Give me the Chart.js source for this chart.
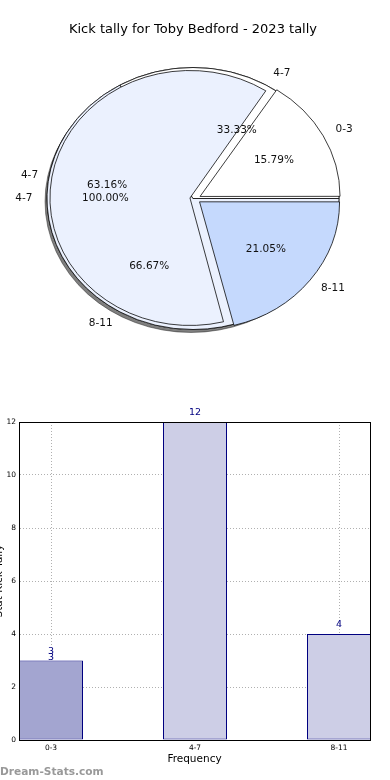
<!DOCTYPE html>
<html>
<head>
<meta charset="utf-8">
<script src="https://cdn.jsdelivr.net/npm/chart.js@4.4.1/dist/chart.umd.min.js"></script>
<style>
  body { margin: 0; background: #fff; width: 390px; height: 780px; overflow: hidden; position: relative; }
  .pie { position: absolute; left: 0; top: 0; }
  #bars { position: absolute; left: -10px; top: 360px; }
  #mark { position: absolute; left: 0; top: 764px; font: bold 10.6px "DejaVu Sans"; line-height: 14px; color: #999; }
</style>
</head>
<body>
<canvas id="pieBack" class="pie" width="390" height="360"></canvas>
<canvas id="pieMid" class="pie" width="390" height="360"></canvas>
<canvas id="pieFront" class="pie" width="390" height="360"></canvas>
<canvas id="bars" width="400" height="420"></canvas>
<div id="mark">Dream-Stats.com</div>

<script>
// data
const categories = ['0-3', '4-7', '8-11'];
const kickTally = [3, 12, 4];
// the source image has two more pies stacked under the main one
const fullLabels = ['4-7'];
const fullValues = [12];
const splitLabels = ['4-7', '8-11'];
const splitValues = [4, 8];
const yTicks = [0, 2, 4, 6, 8, 10, 12];
// how many times each bar value got printed (0-3 shows "3" twice)
const barLabelRepeats = [2, 1, 1];

const pieColors = ['#ffffff', '#ebf1fe', '#c5d9fd'];
const barColors = ['#a3a5d0', '#cdcee6', '#cdcee6'];

Chart.defaults.font.family = 'DejaVu Sans';

// pie geometry (matplotlib draws it as an ellipse)
const FRONT_R = 140, FRONT_SY = 127.5 / 140, EXPLODE = 5.4;
const BACK_R = 146, BACK_SY = 131 / 146;

// squash a pie vertically around its centre
function squash(sy, shadow) {
  return {
    id: 'squash',
    beforeDatasetsDraw(chart) {
      const a = chart.getDatasetMeta(0).data[0];
      const ctx = chart.ctx;
      ctx.save();
      ctx.translate(a.x, a.y);
      ctx.scale(1, sy);
      ctx.translate(-a.x, -a.y);
      if (shadow) {
        ctx.shadowColor = 'rgba(0,0,0,0.5)';
        ctx.shadowOffsetX = -2;
        ctx.shadowOffsetY = 3;
        ctx.shadowBlur = 0.5;
      }
    },
    afterDatasetsDraw(chart) {
      chart.ctx.restore();
    }
  };
}

function pieOptions(padding, title) {
  return {
    responsive: false,
    animation: false,
    events: [],
    layout: { padding: padding },
    plugins: {
      legend: { display: false },
      tooltip: { enabled: false },
      title: title || { display: false }
    }
  };
}

// chart.js runs clockwise, matplotlib counter clockwise from 3 o'clock -> reverse
const rev = a => a.slice().reverse();

var pieBack = new Chart(document.getElementById('pieBack'), {
  type: 'pie',
  data: {
    labels: fullLabels,
    datasets: [{
      data: fullValues,
      backgroundColor: pieColors[0],
      borderColor: '#000',
      borderWidth: 0.8,
      radius: BACK_R,
      rotation: 90
    }]
  },
  options: pieOptions({ left: 0, right: 4, top: 0, bottom: 0.6 }, {
    display: true,
    text: 'Kick tally for Toby Bedford - 2023 tally',
    color: '#000',
    font: { size: 13, weight: 'normal' },
    padding: { top: 22, bottom: 0 }
  }),
  plugins: [squash(BACK_SY, true)]
});

var pieMid = new Chart(document.getElementById('pieMid'), {
  type: 'pie',
  data: {
    labels: rev(splitLabels),
    datasets: [{
      data: rev(splitValues),
      backgroundColor: rev(pieColors.slice(0, splitValues.length)),
      borderColor: '#000',
      borderWidth: 0.8,
      borderJoinStyle: 'miter',
      radius: BACK_R,
      rotation: 90
    }]
  },
  options: pieOptions({ left: 0, right: 4, top: 37.6, bottom: 0.6 }),
  plugins: [squash(BACK_SY, false)]
});

// chart.js grows an offset arc's radius by offset/4 * fix, undo that
const keepRadius = {
  id: 'keepRadius',
  afterDatasetsUpdate(chart) {
    chart.getDatasetMeta(0).data.forEach(arc => {
      const circ = arc.endAngle - arc.startAngle;
      const fix = 1 - Math.sin(Math.min(Math.PI, circ));
      arc.outerRadius = FRONT_R - (EXPLODE * fix);
    });
  }
};

function drawPieLabels(ctx, cx, cy, r, sy, explode, labels, values) {
  const total = values.reduce((a, b) => a + b, 0);
  let start = 0;
  values.forEach((v, i) => {
    const frac = v / total;
    const mid = (start + frac / 2) * 2 * Math.PI;
    start += frac;
    const c = Math.cos(mid), s = Math.sin(mid);
    const at = d => [cx + (explode + r * d) * c, cy - (explode + r * d) * s * sy];
    const [lx, ly] = at(1.1);
    ctx.textAlign = c < -0.0001 ? 'right' : 'left';
    ctx.fillText(labels[i], lx, ly);
    const [px, py] = at(0.6);
    ctx.textAlign = 'center';
    ctx.fillText((frac * 100).toFixed(2) + '%', px, py);
  });
}

const pieLabels = {
  id: 'pieLabels',
  afterDraw(chart) {
    const ctx = chart.ctx;
    ctx.save();
    ctx.font = '10.5px "DejaVu Sans"';
    ctx.fillStyle = '#111';
    ctx.textBaseline = 'middle';
    const b = pieBack.getDatasetMeta(0).data[0];
    drawPieLabels(ctx, b.x, b.y, BACK_R, BACK_SY, 0, fullLabels, fullValues);
    drawPieLabels(ctx, b.x, b.y, BACK_R, BACK_SY, 0, splitLabels, splitValues);
    const f = chart.getDatasetMeta(0).data[0];
    drawPieLabels(ctx, f.x, f.y, FRONT_R, FRONT_SY, EXPLODE, categories, kickTally);
    ctx.restore();
  }
};

var pieFront = new Chart(document.getElementById('pieFront'), {
  type: 'pie',
  data: {
    labels: rev(categories),
    datasets: [{
      data: rev(kickTally),
      backgroundColor: rev(pieColors),
      borderColor: '#000',
      borderWidth: 0.8,
      borderJoinStyle: 'miter',
      offset: EXPLODE * 4,
      radius: FRONT_R,
      rotation: 90
    }]
  },
  options: pieOptions({ left: 0.6, right: 0, top: 37.6, bottom: 0 }),
  plugins: [keepRadius, squash(FRONT_SY, false), pieLabels]
});

// ---- bar chart ----

const frame = {
  id: 'frame',
  afterDraw(chart) {
    const a = chart.chartArea, ctx = chart.ctx;
    ctx.save();
    ctx.strokeStyle = '#000';
    ctx.lineWidth = 1;
    ctx.strokeRect(Math.round(a.left) + 0.5, Math.round(a.top) + 0.5,
      Math.round(a.right - a.left), Math.round(a.bottom - a.top));
    ctx.restore();
  }
};

const barValues = {
  id: 'barValues',
  afterDatasetsDraw(chart) {
    const ctx = chart.ctx;
    ctx.save();
    ctx.font = '9.5px "DejaVu Sans"';
    ctx.fillStyle = '#000080';
    ctx.textAlign = 'center';
    ctx.textBaseline = 'middle';
    chart.getDatasetMeta(0).data.forEach((bar, i) => {
      for (let k = 0; k < barLabelRepeats[i]; k++) {
        ctx.fillText(String(kickTally[i]), bar.x, bar.y - 9 + k * 6.5);
      }
    });
    ctx.restore();
  }
};

var bars = new Chart(document.getElementById('bars'), {
  type: 'bar',
  data: {
    datasets: [{
      data: kickTally.map((v, i) => ({ x: i, y: v })),
      backgroundColor: barColors,
      borderColor: '#000080',
      borderWidth: 1,
      borderSkipped: false,
      barPercentage: 64 / 144,
      categoryPercentage: 1
    }]
  },
  options: {
    responsive: false,
    animation: false,
    events: [],
    layout: { padding: { top: 62, right: 20, bottom: 0, left: 0 } },
    plugins: {
      legend: { display: false },
      tooltip: { enabled: false }
    },
    scales: {
      x: {
        type: 'linear',
        offset: false,
        min: -32 / 144,
        max: 319 / 144,
        afterBuildTicks: s => { s.ticks = categories.map((c, i) => ({ value: i })); },
        afterFit: s => { s.height = 40; },
        ticks: {
          callback: v => categories[v],
          color: '#000',
          font: { size: 7.5 },
          padding: 3.5,
          maxRotation: 0
        },
        grid: { color: '#b0b0b0', lineWidth: 1, drawTicks: false, offset: false },
        border: { color: '#000', dash: [1, 2] },
        title: {
          display: true,
          text: 'Frequency',
          color: '#000',
          font: { size: 10.5 },
          padding: { top: 0, bottom: 14 }
        }
      },
      y: {
        min: 0,
        max: 12,
        afterBuildTicks: s => { s.ticks = yTicks.map(v => ({ value: v })); },
        afterFit: s => { s.width = 29; },
        ticks: { color: '#000', font: { size: 7.5 }, padding: 3 },
        grid: { color: '#b0b0b0', lineWidth: 1, drawTicks: false },
        border: { color: '#000', dash: [1, 2] },
        title: {
          display: true,
          text: 'Stat Kick Tally',
          color: '#000',
          font: { size: 10.5 },
          padding: { top: 3, bottom: 0 }
        }
      }
    }
  },
  plugins: [barValues, frame]
});
</script>
</body>
</html>
